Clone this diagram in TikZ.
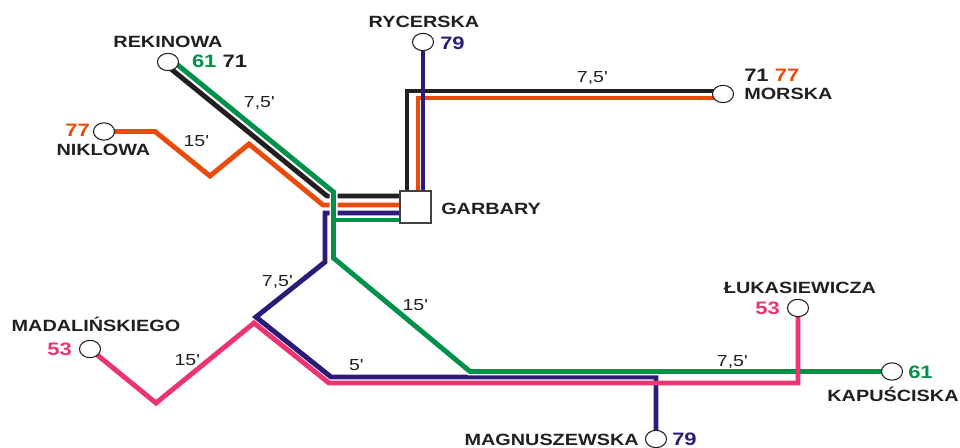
\documentclass[tikz,border=0pt]{standalone}
\usepackage{fontspec}
\usetikzlibrary{calc,shapes.geometric}
\newfontfamily\lblfont[FakeStretch=1.22]{Liberation Sans}
\definecolor{c61}{RGB}{0,146,72}
\definecolor{c71}{RGB}{35,31,32}
\definecolor{c77}{RGB}{234,74,12}
\definecolor{c79}{RGB}{46,26,120}
\definecolor{c53}{RGB}{236,52,115}
\pgfdeclarelayer{lines}
\pgfsetlayers{lines,main}

\begin{document}
\begin{tikzpicture}[x=0.75pt, y=-0.75pt,
	stopring/.style={ellipse, draw=c71, fill=white, line width=0.8pt, minimum width=15.8pt, minimum height=13pt, inner sep=0pt},
	hub/.style={rectangle, draw=c71!85, fill=white, line width=1pt, minimum width=23.3pt, minimum height=24pt, inner sep=0pt},
	stname/.style={font=\lblfont\bfseries\fontsize{12.2}{12.2}\selectfont, text=c71, inner sep=0pt},
	stnum/.style={font=\lblfont\bfseries\fontsize{13.5}{13.5}\selectfont, text=c71, inner sep=0pt},
	tlabel/.style={font=\lblfont\fontsize{12}{12}\selectfont, text=c71, inner sep=0pt, anchor=base},
	route/.style={line width=3.7pt},
	l61/.style={route, draw=c61},
	l71/.style={route, draw=c71},
	l77/.style={route, draw=c77},
	l79/.style={route, draw=c79},
	l53/.style={route, draw=c53}]
			\useasboundingbox (0,0) rectangle (960,448);
			
			%%%%% STOPS %%%%%
			
			\node[stopring] (rek) at (168,62) {};
			\node[stopring] (ryc) at (423,42) {};
			\node[stopring] (nik) at (104,131.5) {};
			\node[stopring] (mor) at (723,94) {};
			\node[hub] (gar) at (415.5,207) {};
			\node[stopring] (mad) at (90,349) {};
			\node[stopring] (luk) at (798,308) {};
			\node[stopring] (kap) at (892,371.5) {};
			\node[stopring] (mag) at (656,439) {};
			
			\node[stname, anchor=base] (rek-n) at (168,47.5) {REKINOWA};
			\node[stnum, anchor=base] (rek-r) at (219.5,68) {\textcolor{c61}{61} 71};
			\node[stname, anchor=base] (ryc-n) at (424,28) {RYCERSKA};
			\node[stnum, anchor=base west, text=c79] (ryc-r) at (440,50) {79};
			\node[stname, anchor=base east] (nik-n) at (150.5,155.5) {NIKLOWA};
			\node[stnum, anchor=base east, text=c77] (nik-r) at (90,137) {77};
			\node[stname, anchor=base west] (mor-n) at (744,100) {MORSKA};
			\node[stnum, anchor=base west] (mor-r) at (744,82) {71 \textcolor{c77}{77}};
			\node[stname, anchor=base west] (gar-n) at (441,215) {GARBARY};
			\node[stname, anchor=base] (mad-n) at (96,332) {MADALIŃSKIEGO};
			\node[stnum, anchor=base east, text=c53] (mad-r) at (72,356) {53};
			\node[stname, anchor=base] (luk-n) at (800,294) {ŁUKASIEWICZA};
			\node[stnum, anchor=base east, text=c53] (luk-r) at (780,315) {53};
			\node[stname, anchor=base] (kap-n) at (893,402) {KAPUŚCISKA};
			\node[stnum, anchor=base west, text=c61] (kap-r) at (908,379) {61};
			\node[stname, anchor=base east] (mag-n) at (639,446) {MAGNUSZEWSKA};
			\node[stnum, anchor=base west, text=c79] (mag-r) at (672,446) {79};
			
			%%%%% TIMES %%%%%
			
			\node[tlabel] (t1) at (592,83) {7,5\textquotesingle};
			\node[tlabel] (t2) at (259,108) {7,5\textquotesingle};
			\node[tlabel] (t3) at (196,147) {15\textquotesingle};
			\node[tlabel] (t4) at (187,366) {15\textquotesingle};
			\node[tlabel] (t5) at (277,287) {7,5\textquotesingle};
			\node[tlabel] (t6) at (415,311) {15\textquotesingle};
			\node[tlabel] (t7) at (356,371) {5\textquotesingle};
			\node[tlabel] (t8) at (732,367) {7,5\textquotesingle};
			
			%%%%% BENDS %%%%%
			
			\coordinate (b1) at (327,196);
			\coordinate (b2) at (407,91);
			\coordinate (o1) at (155,131.5);
			\coordinate (o2) at (210,176);
			\coordinate (o3) at (249,144);
			\coordinate (o4) at (323,205);
			\coordinate (o5) at (418,98);
			\coordinate (p1) at (325,213);
			\coordinate (p2) at (325,262);
			\coordinate (p3) at (256,317);
			\coordinate (p4) at (331,377);
			\coordinate (p5) at (656,377);
			\coordinate (g1) at (333.5,192);
			\coordinate (g2) at (333.5,220);
			\coordinate (g3) at (333.5,258);
			\coordinate (g4) at (470,371.5);
			\coordinate (r1) at (156,403);
			\coordinate (r2) at (254,323);
			\coordinate (r3) at (329,383);
			\coordinate (r4) at (798,383);
			
			%%%%% LINES %%%%%
			
			\begin{pgfonlayer}{lines}
			\draw[l71] ($(rek.center)+(0,4.5)$) -- (b1) -- (b1 -| gar.west);
			\draw[l71] (gar.north -| b2) -- (b2) -- (b2 -| mor.center);
			
			\draw[l77] (nik.center) -- (o1) -- (o2) -- (o3) -- (o4) -- (o4 -| gar.west);
			\draw[l77] (gar.north -| o5) -- (o5) -- (o5 -| mor.center);
			
			\draw[l79] (ryc.center) -- (ryc.center |- gar.north);
			\draw[l79] (gar.west |- p1) -- (p1) -- (p2) -- (p3) -- (p4) -- (p5) -- (mag.center);
			
			\draw[l61, preaction={draw=white, line width=6pt}] ($(rek.center)+(0,-5)$) -- (g1) -- (g3) -- (g4) -- (kap.center);
			\draw[l61] (g2) -- (g2 -| gar.west);
			
			\draw[l53] (mad.center) -- (r1) -- (r2) -- (r3) -- (r4) -- (luk.center);
			\end{pgfonlayer}
			
		\end{tikzpicture}
\end{document}
